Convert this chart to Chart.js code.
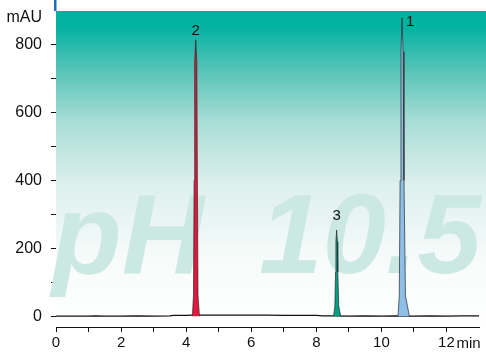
<!DOCTYPE html>
<html>
<head>
<meta charset="utf-8">
<script src="https://cdn.jsdelivr.net/npm/chart.js@4"></script>
<style>
    html, body { margin: 0; padding: 0; background: #fff; }
    #wrap { width: 486px; height: 352px; position: relative; }
</style>
</head>
<body>
<div id="wrap"><canvas id="chart_pH"></canvas></div>
<script>
// Chromatogram at pH 10.5 (time in min, signal in mAU)
const baseTimes  = [0, 0.5, 1, 1.2, 1.5, 2, 2.5, 3, 3.5, 3.6, 4, 4.2, 4.5, 5, 5.5, 6, 6.5, 7, 7.5, 8, 8.2, 8.5, 9, 9.5, 10, 10.4, 11, 11.5, 12, 12.5, 13];
const baseValues = [0, 0, 0, 1, 0, 0, 1, 0, 1, 2, 2, 3, 3, 3, 3, 3, 3, 2, 2, 2, 1, 1, 0, 1, 0, 1, 0, 1, 0, 1, 1];

const peak2Times  = [4.19, 4.225, 4.245, 4.262, 4.295, 4.328, 4.345, 4.365, 4.41];
const peak2Values = [0, 60, 400, 750, 815, 750, 400, 60, 0];

const peak3Times  = [8.53, 8.57, 8.59, 8.603, 8.625, 8.647, 8.66, 8.69, 8.75];
const peak3Values = [0, 30, 130, 220, 254, 220, 130, 30, 0];

const peak1Times  = [10.51, 10.55, 10.575, 10.602, 10.635, 10.668, 10.695, 10.74, 10.86];
const peak1Values = [0, 60, 400, 780, 880, 780, 400, 60, 0];

const peakLabels = ["2", "3", "1"];
const yTicks = [0, 100, 200, 300, 400, 500, 600, 700, 800];
const xTicks = [0, 1, 2, 3, 4, 5, 6, 7, 8, 9, 10, 11, 12];

const FONT = "'Liberation Sans', Arial, sans-serif";

function toPoints(xs, ys) {
    return xs.map((x, i) => ({ x: x, y: ys[i] }));
}

function peakSet(xs, ys, fillColor) {
    return {
        data: toPoints(xs, ys),
        borderColor: "#2a2a2a",
        borderWidth: 0.7,
        backgroundColor: fillColor,
        fill: { value: 0 },
        pointRadius: 0,
        tension: 0
    };
}

// gradient box, watermark, axis unit text and peak numbers
const decorPlugin = {
    id: "decor",
    beforeDatasetsDraw(chart) {
        let ctx = chart.ctx;
        let a = chart.chartArea;
        ctx.save();
        let g = ctx.createLinearGradient(0, a.top, 0, a.bottom);
        g.addColorStop(0, "#00b19f");
        g.addColorStop(0.05, "#03b2a0");
        g.addColorStop(0.2, "#5ec6ba");
        g.addColorStop(0.35, "#a8ddd6");
        g.addColorStop(0.55, "#ddf0ed");
        g.addColorStop(0.78, "#f6fbfa");
        g.addColorStop(1, "#ffffff");
        ctx.fillStyle = g;
        ctx.fillRect(a.left, a.top, chart.width - a.left, a.bottom - a.top);

        // watermark
        ctx.font = "italic bold 114px " + FONT;
        ctx.fillStyle = "rgb(204,232,227)";
        ctx.textBaseline = "alphabetic";
        ctx.fillText("pH", 52, 273);
        ctx.fillText("10.5", 259, 273);
        ctx.restore();
    },
    afterDraw(chart) {
        let ctx = chart.ctx;
        let a = chart.chartArea;
        let xs = chart.scales.x;
        let ys = chart.scales.y;
        ctx.save();
        // blue stub on top of the y axis
        ctx.fillStyle = "#1a6fb8";
        ctx.fillRect(a.left - 2, 0, 2.5, a.top);

        ctx.fillStyle = "#111";
        ctx.font = "16px " + FONT;
        ctx.textAlign = "right";
        ctx.textBaseline = "middle";
        ctx.fillText("mAU", 42, 18);

        ctx.textAlign = "left";
        ctx.font = "15px " + FONT;
        ctx.fillText("min", xs.getPixelForValue(12) + 10, 344);

        // peak numbers
        ctx.font = "15px " + FONT;
        ctx.textAlign = "center";
        ctx.fillText(peakLabels[0], xs.getPixelForValue(peak2Times[4]), ys.getPixelForValue(peak2Values[4]) - 9);
        ctx.fillText(peakLabels[1], xs.getPixelForValue(peak3Times[4]), ys.getPixelForValue(peak3Values[4]) - 14);
        ctx.fillText(peakLabels[2], xs.getPixelForValue(peak1Times[4]) + 8, ys.getPixelForValue(peak1Values[4]) + 4);
        ctx.restore();
    }
};

let ctx = document.getElementById("chart_pH").getContext("2d");
new Chart(ctx, {
    type: "line",
    data: {
        datasets: [
            peakSet(peak2Times, peak2Values, "#e2163d"),
            peakSet(peak3Times, peak3Values, "#00a088"),
            peakSet(peak1Times, peak1Values, "#8dbfe8"),
            {
                data: toPoints(baseTimes, baseValues),
                borderColor: "#111",
                borderWidth: 1.3,
                fill: false,
                pointRadius: 0,
                tension: 0
            }
        ]
    },
    options: {
        responsive: true,
        maintainAspectRatio: false,
        animation: false,
        layout: { padding: { top: 11, right: 7, left: 0, bottom: 0 } },
        plugins: { legend: { display: false }, tooltip: { enabled: false } },
        scales: {
            x: {
                type: "linear",
                min: 0,
                max: 13,
                afterBuildTicks: s => { s.ticks = xTicks.map(v => ({ value: v })); },
                afterFit: s => { s.height = 25; s.paddingLeft = 0; s.paddingRight = 0; },
                grid: { drawOnChartArea: false, drawTicks: true, tickLength: 5, color: "#111" },
                border: { color: "#111", width: 1 },
                ticks: {
                    color: "#111",
                    font: { family: FONT, size: 15 },
                    padding: 2,
                    maxRotation: 0,
                    autoSkip: false,
                    callback: v => (v % 2 === 0 ? String(v) : "")
                }
            },
            y: {
                min: -32,
                max: 900,
                afterBuildTicks: s => { s.ticks = yTicks.map(v => ({ value: v })); },
                afterFit: s => { s.width = 56; s.paddingTop = 0; s.paddingBottom = 0; },
                grid: { drawOnChartArea: false, drawTicks: true, tickLength: 5, color: "#111" },
                border: { color: "#111", width: 1 },
                ticks: {
                    color: "#111",
                    font: { family: FONT, size: 16 },
                    padding: 9,
                    autoSkip: false,
                    callback: v => (v % 200 === 0 ? String(v) : "")
                }
            }
        }
    },
    plugins: [decorPlugin]
});
</script>
</body>
</html>
